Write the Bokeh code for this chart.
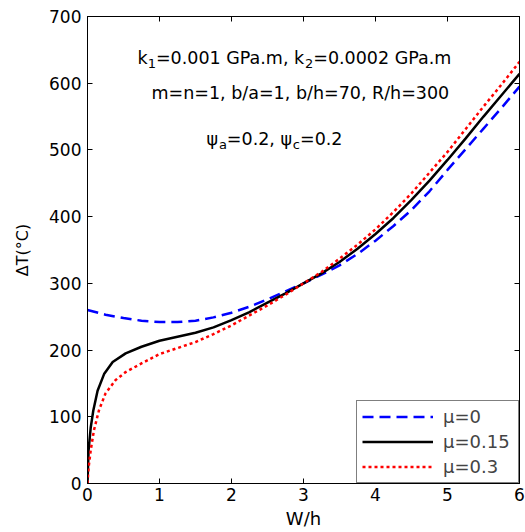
from bokeh.plotting import figure
from bokeh.models import Range1d, LinearAxis, FixedTicker, Legend, LegendItem
from bokeh.core.properties import value
from bokeh.embed import file_html
from bokeh.resources import INLINE

# ---------------- data ----------------
x_mu0 = [0, 0.25, 0.5, 0.75, 1.0, 1.25, 1.5, 1.75, 2.0, 2.25, 2.5, 2.75, 3.0,
         3.25, 3.5, 3.75, 4.0, 4.25, 4.5, 4.75, 5.0, 5.25, 5.5, 5.75, 6.0]
y_mu0 = [260, 253, 248, 244, 242, 242, 244, 249, 256, 265, 276, 288, 300,
         313, 327, 344, 364, 386, 410, 438, 470, 501, 532, 563, 595]

x_mu015 = [0, 0.015, 0.045, 0.08, 0.14, 0.23, 0.35, 0.53, 0.75, 1.0, 1.25, 1.5,
           1.75, 2.0, 2.25, 2.5, 2.75, 3.0, 3.25, 3.5, 3.75, 4.0, 4.25, 4.5,
           4.75, 5.0, 5.25, 5.5, 5.75, 6.0]
y_mu015 = [0, 50, 84, 109, 139, 164, 182, 195, 205, 214, 220, 226,
           234, 245, 257, 271, 285, 300, 315, 332, 352, 374, 398, 425,
           454, 485, 517, 550, 582, 614]

x_mu03 = [0, 0.015, 0.045, 0.09, 0.16, 0.25, 0.39, 0.53, 0.75, 1.0, 1.25, 1.5,
          1.75, 2.0, 2.25, 2.5, 2.75, 3.0, 3.25, 3.5, 3.75, 4.0, 4.25, 4.5,
          4.75, 5.0, 5.25, 5.5, 5.75, 6.0]
y_mu03 = [0, 24, 50, 80, 110, 135, 155, 167, 180, 194, 203, 212,
          224, 237, 252, 267, 283, 300, 317, 337, 358, 381, 407, 435,
          466, 497, 531, 565, 598, 632]

legend_labels = ["\u03bc=0", "\u03bc=0.15", "\u03bc=0.3"]
x_ticks = [0, 1, 2, 3, 4, 5, 6]
y_ticks = [0, 100, 200, 300, 400, 500, 600, 700]

FONT = "DejaVu Sans"

p = figure(width=525, height=532, output_backend="svg", toolbar_location=None,
           x_range=Range1d(0, 6), y_range=Range1d(0, 700),
           min_border_left=87, min_border_right=6, min_border_top=16,
           min_border_bottom=49, background_fill_color="white",
           border_fill_color="white")
p.grid.visible = False
p.outline_line_color = "black"
p.outline_line_width = 1

for ax, ticks in ((p.xaxis[0], x_ticks), (p.yaxis[0], y_ticks)):
    ax.ticker = FixedTicker(ticks=ticks)
    ax.major_tick_in = 5
    ax.major_tick_out = 0
    ax.minor_tick_line_color = None
    ax.axis_line_color = "black"
    ax.major_tick_line_color = "black"
    ax.major_label_text_font = FONT
    ax.major_label_text_font_size = "17px"
    ax.major_label_text_color = "black"
    ax.axis_label_text_font = FONT
    ax.axis_label_text_font_style = "normal"
    ax.axis_label_text_color = "black"

p.xaxis[0].axis_label = "W/h"
p.xaxis[0].axis_label_text_font_size = "18px"
p.xaxis[0].major_label_standoff = 4
p.xaxis[0].axis_label_standoff = 4
p.yaxis[0].axis_label = "\u0394T(\u00b0C)"
p.yaxis[0].axis_label_text_font_size = "16px"
p.yaxis[0].major_label_standoff = 6
p.yaxis[0].axis_label_standoff = 14

top = LinearAxis(ticker=FixedTicker(ticks=x_ticks),
                 major_label_overrides={t: "" for t in x_ticks})
right = LinearAxis(ticker=FixedTicker(ticks=y_ticks),
                   major_label_overrides={t: "" for t in y_ticks})
for ax in (top, right):
    ax.major_tick_in = 5
    ax.major_tick_out = 0
    ax.minor_tick_line_color = None
    ax.major_label_standoff = 0
    ax.major_label_text_font_size = "1px"
    ax.axis_line_color = "black"
p.add_layout(top, "above")
p.add_layout(right, "right")

r0 = p.line(x_mu0, y_mu0, line_color="#0000ff", line_width=2.5, line_dash="11 6")
r1 = p.line(x_mu015, y_mu015, line_color="black", line_width=2.5)
r2 = p.line(x_mu03, y_mu03, line_color="#ff0000", line_width=2.5, line_dash="3 3")

legend = Legend(items=[LegendItem(label=legend_labels[0], renderers=[r0]),
                       LegendItem(label=legend_labels[1], renderers=[r1]),
                       LegendItem(label=legend_labels[2], renderers=[r2])],
                location="bottom_right", margin=0, padding=5, spacing=4,
                glyph_width=71, glyph_height=7, label_height=7, label_width=70,
                label_standoff=10, label_text_font=FONT,
                label_text_font_size="18px", border_line_color="black",
                border_line_width=1.5, background_fill_alpha=1.0)
p.add_layout(legend, "center")

# ------------- annotation text with subscripts -------------
W = {" ": 651, ",": 651, ".": 651, "/": 690, "=": 1716, "G": 1589, "P": 1235,
     "R": 1423, "a": 1255, "b": 1300, "c": 1126, "h": 1298, "k": 1186,
     "m": 1995, "n": 1298, "\u03c8": 1450}


def tw(s, size):
    return sum(W.get(ch, 1303) for ch in s) / 2048.0 * size


PX_X = 432 / 6.0
PX_Y = 467 / 700.0
MAIN, SUB = 17.5, 13

lines = [
    (137, 57, [("k", 0), ("1", 1), ("=0.001 GPa.m, k", 0), ("2", 1), ("=0.0002 GPa.m", 0)]),
    (151, 92, [("m=n=1, b/a=1, b/h=70, R/h=300", 0)]),
    (206, 138, [("\u03c8", 0), ("a", 1), ("=0.2, \u03c8", 0), ("c", 1), ("=0.2", 0)]),
]
for left_px, base_px, pieces in lines:
    xs, ys, ts, sz = [], [], [], []
    cur = left_px
    for s, sub in pieces:
        size = SUB if sub else MAIN
        xs.append((cur - 87) / PX_X)
        ys.append((483 - (base_px + (6 if sub else 0))) / PX_Y)
        ts.append(s)
        sz.append("%spx" % size)
        cur += tw(s, size)
    p.text(x=xs, y=ys, text=ts, text_font=value(FONT), text_font_size=sz,
           text_align="left", text_baseline="alphabetic", text_color="black")

open("out.html", "w").write(file_html(p, INLINE))
